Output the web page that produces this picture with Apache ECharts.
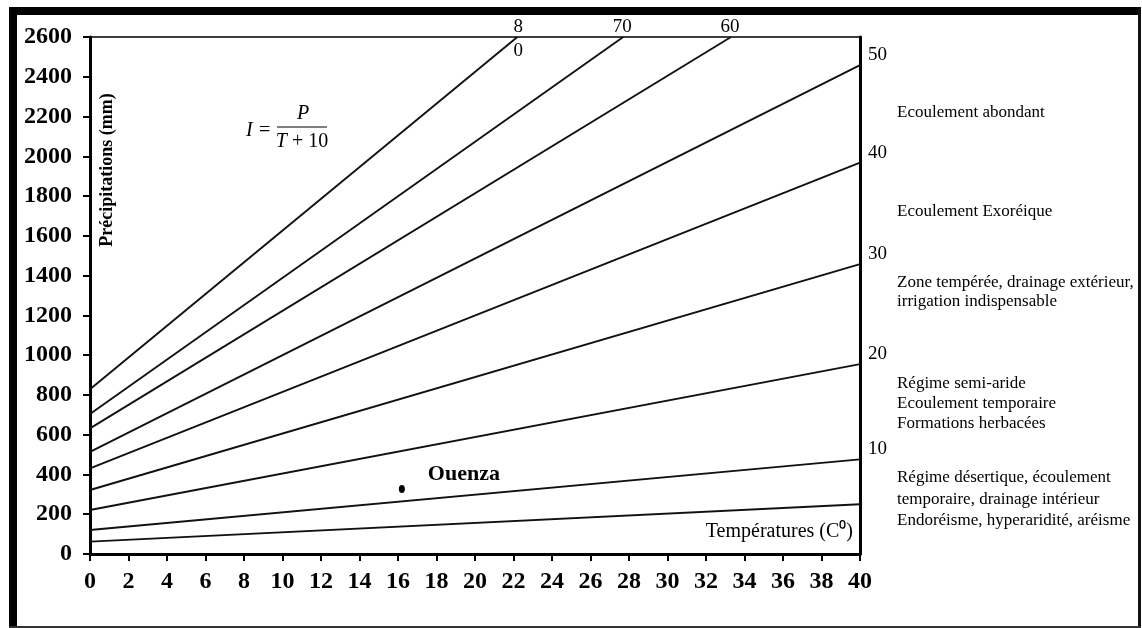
<!DOCTYPE html>
<html>
<head>
<meta charset="utf-8">
<title>Abaque de De Martonne</title>
<script src="https://cdn.jsdelivr.net/npm/echarts@6/dist/echarts.min.js"></script>
<style>
  html, body { margin: 0; padding: 0; background: #fff; }
  #chart { width: 1142px; height: 628px; }
</style>
</head>
<body>
<div id="chart"></div>
<script>
// Aridity index lines I = P / (T + 10): each line runs from T = 0 to its end point
const indexValues  = [5, 10, 20, 30, 40, 50, 60, 70, 80];
const precipAtZero = [62, 121, 221, 322, 431, 514, 632, 704, 828];
const endTemps     = [40, 40, 40, 40, 40, 40, 33.3, 27.7, 22.2];
const endPrecip    = [250, 476, 955, 1458, 1968, 2459, 2600, 2600, 2600];
// Index values that carry a label at the end of their line
const labelledIndices = [10, 20, 30, 40, 50, 60, 70, 80];

// Station plotted on the chart
const stationNames  = ['Ouenza'];
const stationTemps  = [16.2];
const stationPrecip = [327];

// Climate zones written to the right of the chart (one entry per text line)
const zoneLines = [
  { text: 'Ecoulement abondant', y: 113 },
  { text: 'Ecoulement Exoréique', y: 212 },
  { text: 'Zone tempérée, drainage extérieur,', y: 283 },
  { text: 'irrigation indispensable', y: 302 },
  { text: 'Régime semi-aride', y: 384 },
  { text: 'Ecoulement temporaire', y: 404 },
  { text: 'Formations herbacées', y: 424 },
  { text: 'Régime désertique, écoulement', y: 478 },
  { text: 'temporaire, drainage intérieur', y: 500 },
  { text: 'Endoréisme, hyperaridité, aréisme', y: 521 }
];

const SERIF = '"Liberation Serif", "Times New Roman", serif';
const chart = echarts.init(document.getElementById('chart'), null, { renderer: 'canvas' });

const lineSeries = indexValues.map((iv, k) => ({
  type: 'line',
  name: 'I = ' + iv,
  data: [[0, precipAtZero[k]], [endTemps[k], endPrecip[k]]],
  symbol: 'none',
  silent: true,
  z: 2,
  lineStyle: { color: '#111', width: 1.9 }
}));

const stationSeries = {
  type: 'scatter',
  data: stationNames.map((n, k) => ({ name: n, value: [stationTemps[k], stationPrecip[k]] })),
  symbol: 'circle',
  symbolSize: [6, 8],
  silent: true,
  itemStyle: { color: '#000', opacity: 1 },
  z: 3
};

const axisLineStyle = { color: '#000', width: 3 };
const plainNumber = v => String(v);

chart.setOption({
  animation: false,
  backgroundColor: '#fff',
  grid: { left: 90, right: 282, top: 37, bottom: 74, outerBoundsMode: 'none' },
  xAxis: [
    {
      type: 'value', min: 0, max: 40, interval: 2,
      axisLine: { show: true, onZero: false, lineStyle: axisLineStyle },
      axisTick: { show: true, inside: false, length: 7, lineStyle: { color: '#000', width: 2 } },
      axisLabel: {
        formatter: plainNumber,
        fontFamily: SERIF, fontWeight: 'bold', fontSize: 24, color: '#000', margin: 16,
        showMinLabel: true, showMaxLabel: true
      },
      splitLine: { show: false }
    },
    {
      type: 'value', min: 0, max: 40, position: 'top',
      axisLine: { show: true, onZero: false, lineStyle: { color: '#000', width: 1.5 } },
      axisTick: { show: false }, axisLabel: { show: false }, splitLine: { show: false }
    }
  ],
  yAxis: [
    {
      type: 'value', min: 0, max: 2600, interval: 200,
      axisLine: { show: true, onZero: false, lineStyle: axisLineStyle },
      axisTick: { show: true, inside: false, length: 7, lineStyle: { color: '#000', width: 2 } },
      axisLabel: {
        formatter: plainNumber,
        fontFamily: SERIF, fontWeight: 'bold', fontSize: 24, color: '#000', margin: 18,
        showMinLabel: true, showMaxLabel: true
      },
      splitLine: { show: false }
    },
    {
      type: 'value', min: 0, max: 2600, position: 'right',
      axisLine: { show: true, onZero: false, lineStyle: axisLineStyle },
      axisTick: { show: false }, axisLabel: { show: false }, splitLine: { show: false }
    }
  ],
  series: lineSeries.concat([stationSeries])
});

const graphics = [];
const toPx = (t, p) => chart.convertToPixel({ gridIndex: 0 }, [t, p]);

// Index values written at the end of each line
indexValues.forEach((iv, k) => {
  if (labelledIndices.indexOf(iv) < 0) return;
  const p = toPx(endTemps[k], endPrecip[k]);
  const txt = String(iv);
  const base = { fontFamily: SERIF, fontSize: 19, fill: '#000' };
  if (endTemps[k] >= 40) {
    graphics.push({ type: 'text', x: p[0] + 8, y: p[1] - 10,
      style: Object.assign({ text: txt, align: 'left', verticalAlign: 'middle' }, base) });
  } else if (iv === 80) {
    // the "80" label is split on either side of the top border
    graphics.push({ type: 'text', x: p[0] + 1, y: p[1] - 10,
      style: Object.assign({ text: txt.charAt(0), align: 'center', verticalAlign: 'middle' }, base) });
    graphics.push({ type: 'text', x: p[0] + 1, y: p[1] + 14,
      style: Object.assign({ text: txt.charAt(1), align: 'center', verticalAlign: 'middle' }, base) });
  } else {
    graphics.push({ type: 'text', x: p[0] - 1, y: p[1] - 10,
      style: Object.assign({ text: txt, align: 'center', verticalAlign: 'middle' }, base) });
  }
});

// Station name next to its point
stationNames.forEach((n, k) => {
  const p = toPx(stationTemps[k], stationPrecip[k]);
  graphics.push({ type: 'text', x: p[0] + 26, y: p[1] - 15,
    style: { text: n, fontFamily: SERIF, fontWeight: 'bold', fontSize: 22, fill: '#000',
             align: 'left', verticalAlign: 'middle' } });
});

// Zone descriptions
zoneLines.forEach(z => {
  graphics.push({ type: 'text', x: 897, y: z.y,
    style: { text: z.text, fontFamily: SERIF, fontSize: 17, fill: '#000', align: 'left', verticalAlign: 'middle' } });
});

// Axis titles
graphics.push({ type: 'text', x: 107, y: 170, rotation: Math.PI / 2,
  style: { text: 'Précipitations (mm)', fontFamily: SERIF, fontWeight: 'bold', fontSize: 18, fill: '#000',
           align: 'center', verticalAlign: 'middle' } });
graphics.push({ type: 'text', x: 853, y: 532,
  style: { text: 'Températures (C\u2070)', fontFamily: SERIF, fontSize: 20, fill: '#000',
           align: 'right', verticalAlign: 'middle' } });

// Formula I = P / (T + 10)
graphics.push({ type: 'text', x: 246, y: 131,
  style: { text: 'I =', fontFamily: SERIF, fontStyle: 'italic', fontSize: 20, fill: '#000', align: 'left', verticalAlign: 'middle' } });
graphics.push({ type: 'text', x: 303, y: 114,
  style: { text: 'P', fontFamily: SERIF, fontStyle: 'italic', fontSize: 20, fill: '#000', align: 'center', verticalAlign: 'middle' } });
graphics.push({ type: 'line', shape: { x1: 277, y1: 127, x2: 327, y2: 127 }, style: { stroke: '#000', lineWidth: 1.2 } });
graphics.push({ type: 'text', x: 302, y: 142,
  style: { text: '{i|T} + 10', fontFamily: SERIF, fontSize: 20, fill: '#000', align: 'center', verticalAlign: 'middle',
           rich: { i: { fontFamily: SERIF, fontStyle: 'italic', fontSize: 20, fill: '#000' } } } });

// Outer frame
graphics.push({ type: 'rect', shape: { x: 9, y: 7, width: 1132, height: 8 }, style: { fill: '#000' }, z: 100 });
graphics.push({ type: 'rect', shape: { x: 9, y: 7, width: 8, height: 621 }, style: { fill: '#000' }, z: 100 });
graphics.push({ type: 'rect', shape: { x: 1138, y: 7, width: 3, height: 621 }, style: { fill: '#111' }, z: 100 });
graphics.push({ type: 'rect', shape: { x: 9, y: 626, width: 1132, height: 2 }, style: { fill: '#333' }, z: 100 });

chart.setOption({ graphic: graphics });
</script>
</body>
</html>
